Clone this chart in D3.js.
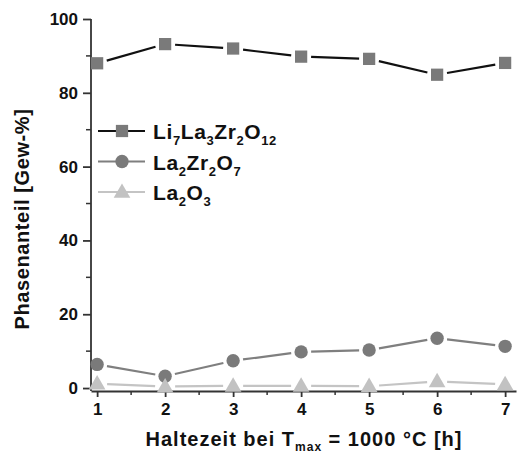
<!DOCTYPE html>
<html>
<head>
<meta charset="utf-8">
<script src="https://cdn.jsdelivr.net/npm/d3@7"></script>
<style>
	body { margin: 0; background: #fff; }
	svg text { font-family: 'Liberation Sans', Arial, sans-serif; font-weight: bold; fill: #111; }
</style>
</head>
<body>
<div id="chart"></div>
<script>
// x = Haltezeit [h]
const hours = [1, 2, 3, 4, 5, 6, 7];
const llzo = [88.0, 93.2, 92.0, 89.8, 89.2, 84.9, 88.1];
const la2zr2o7 = [6.4, 3.2, 7.4, 9.8, 10.3, 13.5, 11.3];
const la2o3 = [1.2, 0.4, 0.6, 0.6, 0.5, 1.8, 1.0];
const yTicks = [0, 20, 40, 60, 80, 100];
const xTicks = [1, 2, 3, 4, 5, 6, 7];

const width = 517, height = 455;

const series = [
	{ name: [['Li', ''], ['7', 'sub'], ['La', ''], ['3', 'sub'], ['Zr', ''], ['2', 'sub'], ['O', ''], ['12', 'sub']],
	  values: llzo, shape: 'square', fill: '#7a7a7a', line: '#111' },
	{ name: [['La', ''], ['2', 'sub'], ['Zr', ''], ['2', 'sub'], ['O', ''], ['7', 'sub']],
	  values: la2zr2o7, shape: 'circle', fill: '#7a7a7a', line: '#7f7f7f' },
	{ name: [['La', ''], ['2', 'sub'], ['O', ''], ['3', 'sub']],
	  values: la2o3, shape: 'triangle', fill: '#c2c2c2', line: '#c4c4c4' }
];

const svg = d3.select('#chart').append('svg')
	.attr('width', width)
	.attr('height', height);

// ----------------------------------
// SCALES
// ----------------------------------
const x = d3.scaleLinear().domain([0.91, 7.16]).range([91, 516]);
const y = d3.scaleLinear().domain([-0.8, 100]).range([391, 19]);

const symbols = {
	square: d3.symbol().type(d3.symbolSquare).size(150),
	circle: d3.symbol().type(d3.symbolCircle).size(140),
	triangle: d3.symbol().type(d3.symbolTriangle).size(120)
};

// ----------------------------------
// AXES
// ----------------------------------
const yAxis = svg.append('g')
	.attr('transform', `translate(${x(0.91)},0)`)
	.call(d3.axisLeft(y).tickValues(yTicks).tickSize(8).tickSizeOuter(0).tickPadding(5));
yAxis.select('.domain').attr('d', `M0,${y(100)}V${y(-0.8)}`);

// minor y ticks
yAxis.selectAll('.minor')
	.data(d3.range(10, 100, 20))
	.enter().append('line')
	.attr('x1', 0).attr('x2', -5)
	.attr('y1', d => y(d)).attr('y2', d => y(d))
	.attr('stroke', '#333').attr('stroke-width', 1.5);

const xAxis = svg.append('g')
	.attr('transform', `translate(0,${y(-0.8)})`)
	.call(d3.axisBottom(x).tickValues(xTicks).tickFormat(d3.format('d'))
		.tickSize(6).tickSizeOuter(0).tickPadding(6));

xAxis.selectAll('.minor')
	.data(d3.range(1.5, 7.5, 1))
	.enter().append('line')
	.attr('x1', d => x(d)).attr('x2', d => x(d))
	.attr('y1', 0).attr('y2', 4)
	.attr('stroke', '#333').attr('stroke-width', 1.5);

svg.selectAll('.domain, .tick line')
	.attr('stroke', '#333')
	.attr('stroke-width', 1.8);
svg.selectAll('.tick text')
	.style('font-size', '17px')
	.attr('fill', '#111');

// ----------------------------------
// LINES + MARKERS
// ----------------------------------
const plot = svg.append('g');
const gap = 10;

series.forEach(s => {
	const pts = s.values.map((v, i) => [x(hours[i]), y(v)]);
	// Origin-style segments that stop short of each marker
	for (let i = 0; i < pts.length - 1; i++) {
		const [x1, y1] = pts[i], [x2, y2] = pts[i + 1];
		const len = Math.hypot(x2 - x1, y2 - y1);
		const ux = (x2 - x1) / len, uy = (y2 - y1) / len;
		plot.append('line')
			.attr('x1', x1 + ux * gap).attr('y1', y1 + uy * gap)
			.attr('x2', x2 - ux * gap).attr('y2', y2 - uy * gap)
			.attr('stroke', s.line)
			.attr('stroke-width', 2.2);
	}
	plot.selectAll(null)
		.data(pts)
		.enter().append('path')
		.attr('d', symbols[s.shape])
		.attr('transform', d => `translate(${d[0]},${d[1] + (s.shape === 'triangle' ? 1 : 0)})`)
		.attr('fill', s.fill);
});

// ----------------------------------
// LEGEND
// ----------------------------------
const legend = svg.append('g').attr('transform', 'translate(98,131)');

series.forEach((s, i) => {
	const row = legend.append('g').attr('transform', `translate(0,${i * 30.5})`);
	row.append('line')
		.attr('x1', 0).attr('x2', 47)
		.attr('stroke', s.line).attr('stroke-width', 2.2);
	row.append('path')
		.attr('d', symbols[s.shape])
		.attr('transform', `translate(24,${s.shape === 'triangle' ? 1 : 0})`)
		.attr('fill', s.fill);
	const t = row.append('text')
		.attr('x', 55)
		.attr('y', 8)
		.style('font-size', '21px')
		.style('letter-spacing', '0.6px');
	s.name.forEach(([txt, kind], j) => {
		const prev = j > 0 ? s.name[j - 1][1] : '';
		const sp = t.append('tspan').text(txt);
		if (kind === 'sub') sp.attr('dy', 6).style('font-size', '13px');
		else if (prev === 'sub') sp.attr('dy', -6);
	});
});

// ----------------------------------
// AXIS TITLES
// ----------------------------------
svg.append('text')
	.attr('transform', 'translate(29,219) rotate(-90)')
	.attr('text-anchor', 'middle')
	.style('font-size', '20px')
	.style('letter-spacing', '0.6px')
	.text('Phasenanteil [Gew-%]');

const xt = svg.append('text')
	.attr('x', 304)
	.attr('y', 446)
	.attr('text-anchor', 'middle')
	.style('font-size', '20px')
	.style('letter-spacing', '1px');
xt.append('tspan').text('Haltezeit bei T');
xt.append('tspan').attr('dy', 5).style('font-size', '12px').text('max');
xt.append('tspan').attr('dy', -5).text(' = 1000 °C [h]');
</script>
</body>
</html>
